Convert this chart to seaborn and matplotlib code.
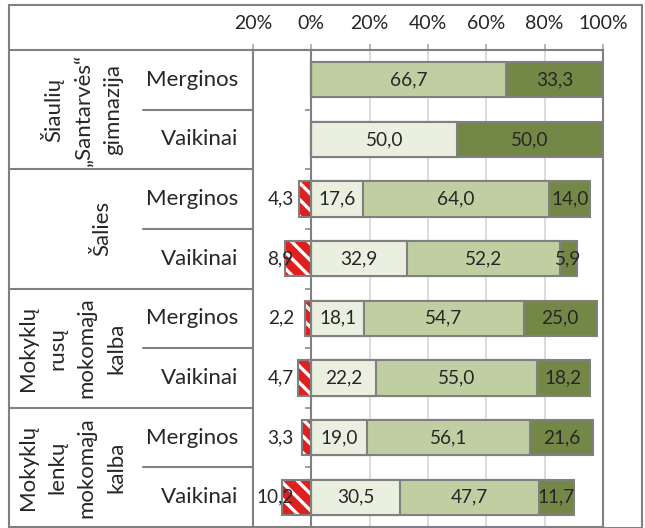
import numpy as np
import pandas as pd
import matplotlib
matplotlib.use('Agg')
import matplotlib.pyplot as plt
import seaborn as sns
from matplotlib.lines import Line2D
from matplotlib.patches import Rectangle
from matplotlib.transforms import blended_transform_factory

# data
groups = ['Šiaulių\n„Santarvės“\ngimnazija', 'Šalies',
          'Mokyklų\nrusų\nmokomąja\nkalba', 'Mokyklų\nlenkų\nmokomąja\nkalba']
subgroups = ['Merginos', 'Vaikinai']
red = [0, 0, 4.3, 8.9, 2.2, 4.7, 3.3, 10.2]
light = [0, 50.0, 17.6, 32.9, 18.1, 22.2, 19.0, 30.5]
medium = [66.7, 0, 64.0, 52.2, 54.7, 55.0, 56.1, 47.7]
dark = [33.3, 50.0, 14.0, 5.9, 25.0, 18.2, 21.6, 11.7]
xticks = [-20, 0, 20, 40, 60, 80, 100]
xticklabels = ['20%', '0%', '20%', '40%', '60%', '80%', '100%']

rows = [f'{g}|{s}' for g in groups for s in subgroups]
df = pd.DataFrame({'row': rows, 'red': red, 'light': light,
                   'medium': medium, 'dark': dark})
df['neg'] = -df['red']
df['c1'] = df['light']
df['c2'] = df['light'] + df['medium']
df['c3'] = df['c2'] + df['dark']

sns.set_style('white')
plt.rcParams['font.family'] = ['Lato', 'DejaVu Sans']
plt.rcParams['hatch.linewidth'] = 2.4

W, H = 645, 528
fig = plt.figure(figsize=(W / 100, H / 100), dpi=100)
ax = fig.add_axes([253 / W, 1 - 527 / H, 350 / W, 477 / H])

edge = '#808080'
lw = 1.5
cols = {'light': '#EBF1DE', 'medium': '#C3D69B', 'dark': '#77933C'}

ax.set_axisbelow(True)
ax.grid(axis='x', color='#d9d9d9', lw=1.3)
ax.grid(axis='y', visible=False)

bw = 0.59
sns.barplot(data=df, x='c3', y='row', orient='h', color=cols['dark'],
            edgecolor=edge, linewidth=lw, width=bw, errorbar=None, ax=ax, zorder=2)
sns.barplot(data=df, x='c2', y='row', orient='h', color=cols['medium'],
            edgecolor=edge, linewidth=lw, width=bw, errorbar=None, ax=ax, zorder=3)
sns.barplot(data=df, x='c1', y='row', orient='h', color=cols['light'],
            edgecolor=edge, linewidth=lw, width=bw, errorbar=None, ax=ax, zorder=4)
sns.barplot(data=df, x='neg', y='row', orient='h', color='#FF0000',
            edgecolor='white', linewidth=0, hatch='\\\\', width=bw,
            errorbar=None, ax=ax, zorder=5)
sns.barplot(data=df, x='neg', y='row', orient='h', color=edge, fill=False,
            linewidth=lw, width=bw, errorbar=None, ax=ax, zorder=6)

fs_val = 13.7
fs_lab = 16
def fmt(v):
    return f'{v:.1f}'.replace('.', ',')

for i in range(len(rows)):
    starts = [0, df['c1'][i], df['c2'][i]]
    vals = [light[i], medium[i], dark[i]]
    for s, v in zip(starts, vals):
        if v > 0:
            ax.text(s + v / 2, i, fmt(v), ha='center', va='center',
                    fontsize=fs_val, zorder=10)
    if red[i] > 0:
        ax.text(-6, i, fmt(red[i]), ha='right', va='center',
                fontsize=fs_val, zorder=10)

ax.set_xlim(-20, 100)
ax.set_ylim(len(rows) - 0.5, -0.5)
ax.xaxis.tick_top()
ax.set_xticks(xticks)
ax.set_xticklabels(xticklabels, fontsize=14)
ax.set_yticks([])
ax.set_yticks(np.arange(-0.5, len(rows)), minor=True)
ax.tick_params(axis='x', which='major', direction='out', length=4.3,
               width=1.1, color='#a0a0a0', pad=9)
ax.tick_params(axis='y', which='minor', direction='out', length=4.3,
               width=1.1, color=edge, left=True)
ax.set_xlabel('')
ax.set_ylabel('')
ax.spines['left'].set_position(('data', 0))
for sp in ax.spines.values():
    sp.set_color(edge)
    sp.set_linewidth(lw)
    sp.set_zorder(7)

# table lines around the plot area
blend = blended_transform_factory(fig.transFigure, ax.transData)
def hline(x0, x1, y):
    ax.add_line(Line2D([x0 / W, x1 / W], [y, y], transform=blend, color=edge,
                       lw=lw, clip_on=False))

hline(9, 253, -0.5)
hline(9, 253, len(rows) - 0.5)
for y in [1.5, 3.5, 5.5]:
    hline(9, 253, y)
for y in [0.5, 2.5, 4.5, 6.5]:
    hline(143, 253, y)
ax.axvline(-20, color=edge, lw=lw, clip_on=False, zorder=7)
fig.add_artist(Rectangle((9 / W, 1 - 527.5 / H), 633 / W, 522.5 / H,
                         transform=fig.transFigure, fill=False, ec=edge, lw=lw))

# category labels
for i, r in enumerate(rows):
    ax.text(238 / W, i, r.split('|')[1], transform=blend, ha='right',
            va='center', fontsize=fs_lab)
gx = [82, 102, 72, 72]
for k, g in enumerate(groups):
    ax.text(gx[k] / W, 2 * k + 0.5, g, transform=blend, rotation=90,
            ha='center', va='center', multialignment='center',
            fontsize=fs_lab, linespacing=1.6)

fig.savefig('out.png', dpi=100)
